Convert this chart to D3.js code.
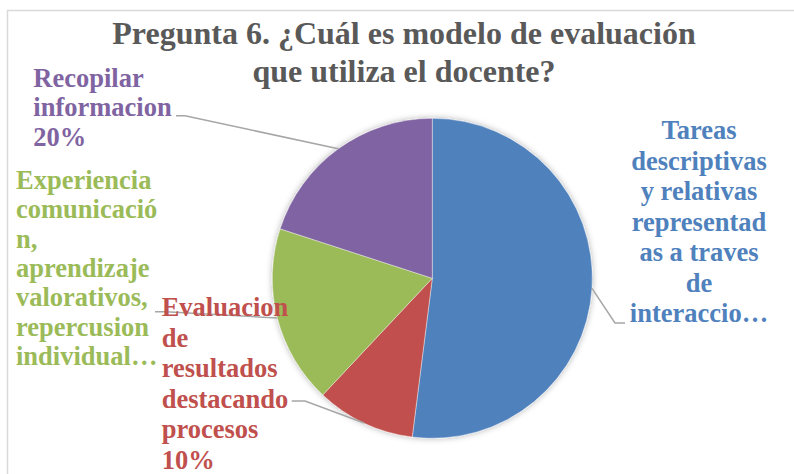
<!DOCTYPE html>
<html>
<head>
<meta charset="utf-8">
<script src="https://cdn.jsdelivr.net/npm/d3@7"></script>
<style>
  body { margin: 0; background: #fff; }
  text { font-family: "Liberation Serif", "Times New Roman", serif; font-weight: bold; }
</style>
</head>
<body>
<svg width="794" height="474"></svg>
<script>
// data
var categories = ["Tareas descriptivas y relativas representadas a traves de interaccion",
                  "Evaluacion de resultados destacando procesos",
                  "Experiencia comunicacion, aprendizaje valorativos, repercusion individual",
                  "Recopilar informacion"];
var values = [52, 10, 18, 20];
var colors = ["#4F81BD", "#C0504D", "#9BBB59", "#8064A2"];
// label text as it is wrapped / cut in the chart
var labelLines = [
  ["Tareas", "descriptivas", "y relativas", "representad", "as a traves", "de", "interaccio…"],
  ["Evaluacion", "de", "resultados", "destacando", "procesos", "10%"],
  ["Experiencia", "comunicació", "n,", "aprendizaje", "valorativos,", "repercusion", "individual…"],
  ["Recopilar", "informacion", "20%"]
];
var titleLines = ["Pregunta 6. ¿Cuál es modelo de evaluación", "que utiliza el docente?"];

var svg = d3.select("svg");
var cx = 432.3, cy = 278.3, r = 160;

// chart border
svg.append("rect")
  .attr("x", 7.5).attr("y", 10.5)
  .attr("width", 800).attr("height", 480)
  .attr("fill", "none")
  .attr("stroke", "#D9D9D9")
  .attr("stroke-width", 1.5);

var defs = svg.append("defs");
defs.append("filter").attr("id", "shadow")
  .attr("x", "-20%").attr("y", "-20%").attr("width", "140%").attr("height", "140%")
  .append("feDropShadow")
  .attr("dx", 0).attr("dy", 0).attr("stdDeviation", 3)
  .attr("flood-color", "#000").attr("flood-opacity", 0.3);

// title
svg.append("text")
  .attr("x", 404).attr("text-anchor", "middle")
  .attr("fill", "#595959")
  .style("font-size", "32px")
  .selectAll("tspan")
  .data(titleLines)
  .enter().append("tspan")
    .attr("x", 404)
    .attr("y", function(d, i) { return 44.3 + i * 37.5; })
    .text(function(d) { return d; });

var pie = d3.pie().sort(null).value(function(d) { return d; });
var arcs = pie(values);
var arc = d3.arc().innerRadius(0).outerRadius(r);
var edge = d3.arc().innerRadius(r).outerRadius(r);

var g = svg.append("g")
  .attr("transform", "translate(" + cx + "," + cy + ")");

g.append("g").attr("filter", "url(#shadow)")
  .selectAll("path")
  .data(arcs)
  .enter().append("path")
    .attr("d", arc)
    .attr("fill", function(d, i) { return colors[i]; })
    .attr("stroke", "#fff")
    .attr("stroke-width", 0.4);

// label placement: text block and leader elbow/end (absolute coords)
var labelPos = [
  {x: 699, y: 139.3, lh: 30.5, anchor: "middle", elbow: [615, 323], end: [625, 323]},
  {x: 161.7, y: 316, lh: 30.6, anchor: "start", elbow: [305, 401], end: [291.7, 401]},
  {x: 16, y: 189, lh: 29.3, anchor: "start", elbow: [166, 311.7], end: [155, 311.7]},
  {x: 33.3, y: 86.7, lh: 29.5, anchor: "start", elbow: [185, 115.7], end: [176, 115.7]}
];

// leader lines
svg.append("g").selectAll("polyline")
  .data(arcs)
  .enter().append("polyline")
    .attr("fill", "none")
    .attr("stroke", "#A6A6A6")
    .attr("stroke-width", 1.5)
    .attr("points", function(d, i) {
      var c = edge.centroid(d);
      var p = labelPos[i];
      return [[cx + c[0], cy + c[1]], p.elbow, p.end].map(function(q) { return q.join(","); }).join(" ");
    });

// data labels
svg.append("g").selectAll("text")
  .data(arcs)
  .enter().append("text")
    .attr("fill", function(d, i) { return colors[i]; })
    .attr("text-anchor", function(d, i) { return labelPos[i].anchor; })
    .style("font-size", "26.5px")
    .each(function(d, i) {
      var p = labelPos[i];
      d3.select(this).selectAll("tspan")
        .data(labelLines[i])
        .enter().append("tspan")
          .attr("x", p.x)
          .attr("y", function(t, j) { return p.y + j * p.lh; })
          .text(function(t) { return t; });
    });
</script>
</body>
</html>
